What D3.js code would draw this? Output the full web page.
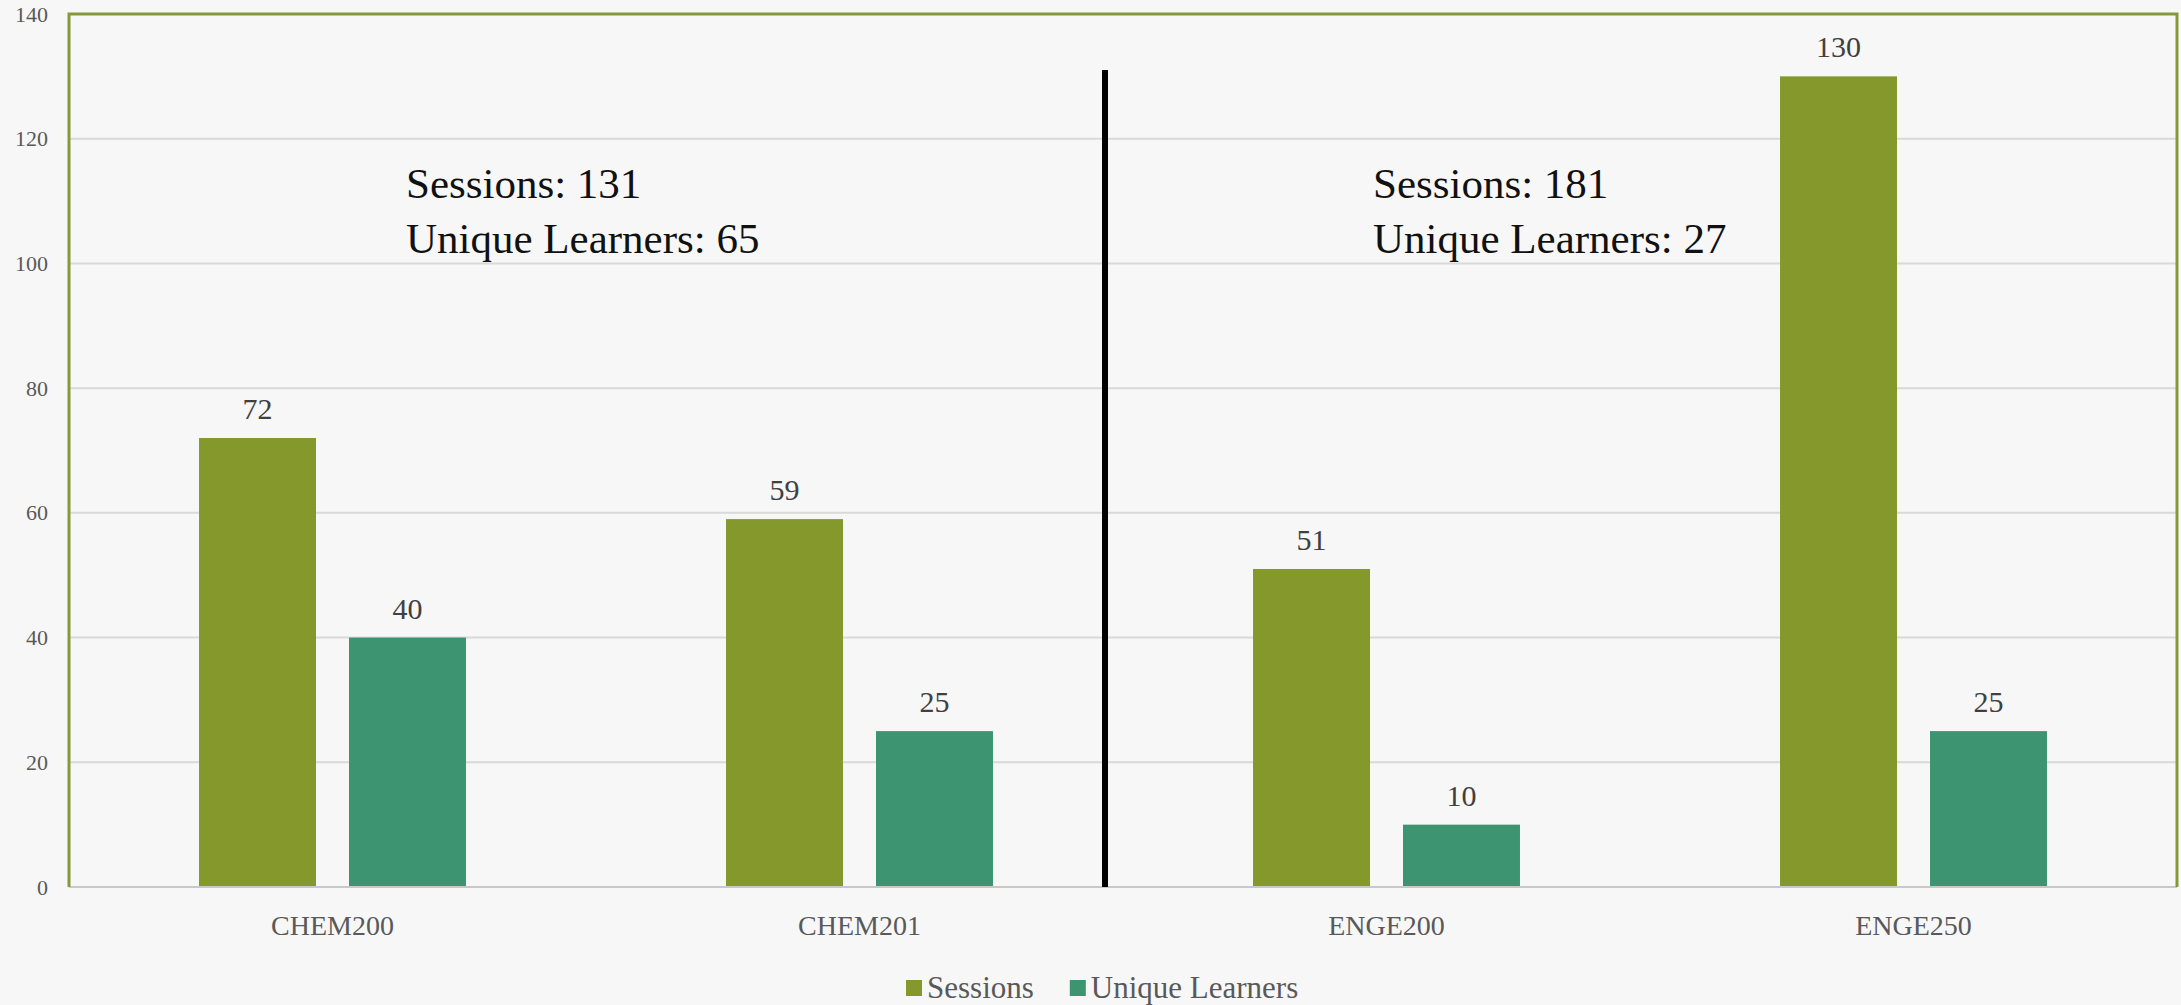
<!DOCTYPE html>
<html>
<head>
<meta charset="utf-8">
<script src="https://cdn.jsdelivr.net/npm/d3@7"></script>
<style>
  html, body { margin: 0; padding: 0; background: #f7f7f7; }
  svg { display: block; }
</style>
</head>
<body>
<div id="chart"></div>
<script>
// Data
const courses = ["CHEM200", "CHEM201", "ENGE200", "ENGE250"];
const seriesNames = ["Sessions", "Unique Learners"];
const sessions = [72, 59, 51, 130];
const learners = [40, 25, 10, 25];
const yTicks = [0, 20, 40, 60, 80, 100, 120, 140];
// group summary boxes (chemistry / engineering)
const groupSessions = [131, 181];
const groupLearners = [65, 27];

const width = 2181, height = 1005;
const serif = "'Liberation Serif', 'Times New Roman', serif";
const colors = { "Sessions": "#84982c", "Unique Learners": "#3c9570" };
const gridColor = "#d9d9d9";
const borderColor = "#86993a";
const labelColor = "#595959";

const plot = { left: 69, right: 2177, top: 14, bottom: 887 };

const svg = d3.select("#chart").append("svg")
    .attr("width", width)
    .attr("height", height);

svg.append("rect")
    .attr("width", width)
    .attr("height", height)
    .attr("fill", "#f7f7f7");

const x0 = d3.scaleBand()
    .domain(courses)
    .range([plot.left, plot.right]);

const x1 = d3.scaleBand()
    .domain(seriesNames)
    .range([0, x0.bandwidth()])
    .paddingInner(0.22)
    .paddingOuter(0.867);

const y = d3.scaleLinear()
    .domain([0, 140])
    .range([plot.bottom, plot.top]);

// Gridlines
svg.append("g")
    .selectAll("line")
    .data(yTicks.filter(d => d > 0 && d < 140))
    .enter().append("line")
    .attr("x1", plot.left)
    .attr("x2", plot.right)
    .attr("y1", d => y(d))
    .attr("y2", d => y(d))
    .style("stroke", gridColor)
    .style("stroke-width", 2);

// Y axis labels
const yAxis = svg.append("g")
    .attr("transform", "translate(" + plot.left + ",0)")
    .call(d3.axisLeft(y).tickValues(yTicks).tickSize(0).tickPadding(21));
yAxis.select(".domain").remove();
yAxis.selectAll("text")
    .style("font-family", serif)
    .style("font-size", "22px")
    .style("fill", labelColor);

// Bars
const rows = courses.map((c, i) => ({
    course: c,
    values: [
        { key: "Sessions", value: sessions[i] },
        { key: "Unique Learners", value: learners[i] }
    ]
}));

const group = svg.append("g")
    .selectAll("g")
    .data(rows)
    .enter().append("g")
    .attr("transform", d => "translate(" + x0(d.course) + ",0)");

group.selectAll("rect")
    .data(d => d.values)
    .enter().append("rect")
    .attr("x", d => x1(d.key))
    .attr("width", x1.bandwidth())
    .attr("y", d => y(d.value))
    .attr("height", d => y(0) - y(d.value))
    .attr("fill", d => colors[d.key]);

group.selectAll("text")
    .data(d => d.values)
    .enter().append("text")
    .attr("x", d => x1(d.key) + x1.bandwidth() / 2)
    .attr("y", d => y(d.value) - 19)
    .attr("text-anchor", "middle")
    .style("font-family", serif)
    .style("font-size", "30px")
    .style("fill", "#404040")
    .text(d => d.value);

// Bottom axis line and plot border
svg.append("line")
    .attr("x1", plot.left).attr("x2", plot.right)
    .attr("y1", plot.bottom).attr("y2", plot.bottom)
    .style("stroke", "#c8c8c8")
    .style("stroke-width", 2);

svg.append("path")
    .attr("d", "M" + plot.left + "," + plot.bottom + "V" + plot.top + "H" + plot.right + "V" + plot.bottom)
    .style("fill", "none")
    .style("stroke", borderColor)
    .style("stroke-width", 3);

// X axis labels
const xAxis = svg.append("g")
    .attr("transform", "translate(0," + plot.bottom + ")")
    .call(d3.axisBottom(x0).tickSize(0).tickPadding(28));
xAxis.select(".domain").remove();
xAxis.selectAll("text")
    .style("font-family", serif)
    .style("font-size", "28px")
    .style("fill", labelColor);

// Divider between chemistry and engineering
const dividerX = x0("ENGE200") - 18;
svg.append("line")
    .attr("x1", dividerX).attr("x2", dividerX)
    .attr("y1", 70).attr("y2", plot.bottom)
    .style("stroke", "#000")
    .style("stroke-width", 6);

// Group summaries
const summaryX = [406, 1373];
groupSessions.forEach(function (s, i) {
    const t = svg.append("text")
        .attr("x", summaryX[i])
        .attr("y", 198)
        .style("font-family", serif)
        .style("font-size", "43px")
        .style("fill", "#111");
    t.append("tspan").attr("x", summaryX[i]).text("Sessions: " + s);
    t.append("tspan").attr("x", summaryX[i]).attr("dy", 55).text("Unique Learners: " + groupLearners[i]);
});

// Legend
const legend = svg.append("g");
let lx = 906;
seriesNames.forEach(function (name) {
    legend.append("rect")
        .attr("x", lx).attr("y", 980)
        .attr("width", 16).attr("height", 16)
        .attr("fill", colors[name]);
    const t = legend.append("text")
        .attr("x", lx + 21)
        .attr("y", 998)
        .style("font-family", serif)
        .style("font-size", "31px")
        .style("fill", labelColor)
        .text(name);
    lx += 21 + t.node().getComputedTextLength() + 36;
});
</script>
</body>
</html>
